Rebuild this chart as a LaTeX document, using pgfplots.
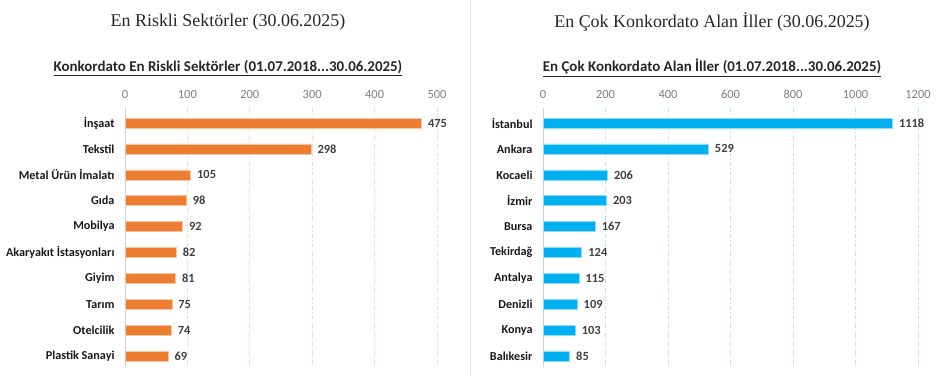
\documentclass[border=0pt]{standalone}
\usepackage{pgfplots}
\pgfplotsset{compat=1.18}
\usepackage{fontspec}
\setmainfont{Carlito}
\newfontfamily\titlefont{Liberation Serif}
\definecolor{orng}{HTML}{ED7D31}
\definecolor{blu}{HTML}{00B0F0}
\definecolor{txt}{HTML}{404040}
\definecolor{tickc}{HTML}{7F7F7F}
\pgfplotsset{
  hbar/.style={
    scale only axis, height=259bp,
    xbar, bar width=10bp,
    ymin=-0.58, ymax=9.42, y dir=reverse,
    ytick={0,...,9},
    axis x line*=top, axis y line*=left,
    x axis line style={draw=none},
    y axis line style={draw=black!18, line width=1bp},
    major tick length=0pt,
    xmin=0,
    xmajorgrids,
    /pgf/number format/assume math mode=true,
    /pgf/number format/1000 sep={},
    xticklabel style={font=\fontsize{12.5}{14}\selectfont, text=tickc, yshift=6bp},
    yticklabel style={font=\bfseries\fontsize{12.2}{14}\selectfont, text=black!90, xshift=-7bp},
    nodes near coords,
    nodes near coords style={font=\bfseries\fontsize{12.5}{14}\selectfont, text=txt, anchor=west, xshift=3bp},
    clip=false,
  }
}
\begin{document}
\begin{tikzpicture}[x=1bp,y=1bp]
\path[use as bounding box] (0,0) rectangle (944,376);
\draw[black!12, line width=1bp] (470.5,0) -- (470.5,376);
\node[font=\titlefont\fontsize{18}{20}\selectfont, text=black!85] at (228,354) {En Riskli Sektörler (30.06.2025)};
\node[font=\bfseries\fontsize{15}{17}\selectfont, text=black!85] at (228,308) {\underline{Konkordato En Riskli Sektörler (01.07.2018...30.06.2025)}};
\node[font=\titlefont\fontsize{18}{20}\selectfont, text=black!85] at (712,354) {En Çok Konkordato Alan İller (30.06.2025)};
\node[font=\bfseries\fontsize{15}{17}\selectfont, text=black!85] at (712,308) {\underline{En Çok Konkordato Alan İller (01.07.2018...30.06.2025)}};

\begin{axis}[hbar,
  at={(125bp,268bp)}, anchor=north west, width=312bp,
  xmax=500, xtick={0,100,...,500},
  major grid style={orng!30, dash pattern=on 4bp off 2bp on 1bp off 2bp, line width=0.8bp},
  yticklabels={İnşaat,Tekstil,Metal Ürün İmalatı,Gıda,Mobilya,Akaryakıt İstasyonları,Giyim,Tarım,Otelcilik,Plastik Sanayi},
]
\addplot[fill=orng, draw=orng!45!white, line width=0.6bp] coordinates {(475,0) (298,1) (105,2) (98,3) (92,4) (82,5) (81,6) (75,7) (74,8) (69,9)};
\end{axis}

\begin{axis}[hbar,
  at={(543bp,268bp)}, anchor=north west, width=375bp,
  xmax=1200, xtick={0,200,...,1200},
  major grid style={blu!30, dash pattern=on 4bp off 2bp on 1bp off 2bp, line width=0.8bp},
  yticklabels={İstanbul,Ankara,Kocaeli,İzmir,Bursa,Tekirdağ,Antalya,Denizli,Konya,Balıkesir},
]
\addplot[fill=blu, draw=blu!45!white, line width=0.6bp] coordinates {(1118,0) (529,1) (206,2) (203,3) (167,4) (124,5) (115,6) (109,7) (103,8) (85,9)};
\end{axis}
\end{tikzpicture}
\end{document}
